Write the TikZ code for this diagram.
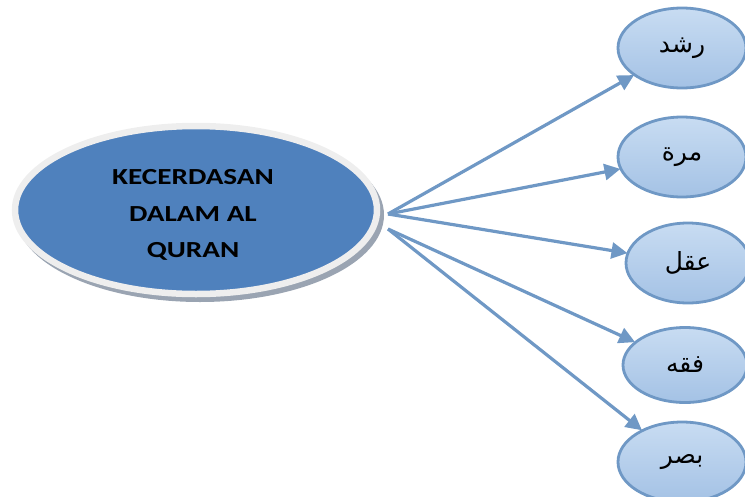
\documentclass[tikz,border=0pt]{standalone}
\usepackage{fontspec}
\setmainfont{Carlito}
\newfontfamily\arabicfont[Script=Arabic]{DejaVu Sans}
\TeXXeTstate=1
\usetikzlibrary{shapes.geometric,arrows.meta}
\definecolor{mainblue}{HTML}{4F81BD}
\definecolor{rimgray}{HTML}{EEEEEE}
\definecolor{shadowgray}{HTML}{9AA4B2}
\definecolor{linkblue}{HTML}{6F98C5}
\definecolor{leaftop}{HTML}{C8DCF2}
\definecolor{leafbot}{HTML}{A4C2E5}
\tikzset{
  leaf/.style={ellipse, draw=linkblue, line width=2.8pt, top color=leaftop, bottom color=leafbot,
    minimum width=128pt, minimum height=80pt, inner sep=0pt,
    font=\arabicfont\fontsize{25pt}{28pt}\selectfont},
  link/.style={draw=linkblue, line width=3.2pt, -{Triangle[length=16pt,width=16pt]}, shorten >=-1pt},
}
\begin{document}
\begin{tikzpicture}[x=1pt,y=-1pt]
\useasboundingbox (0,0) rectangle (745,496);
\clip (0,0) rectangle (745,496);
% shadow of main ellipse
\fill[shadowgray] (200,215) ellipse [x radius=184, y radius=87];
\node[ellipse, draw=rimgray, line width=6.5pt, fill=mainblue, minimum width=362pt, minimum height=168pt,
  inner sep=0pt] (main) at (196,210) {};
\node[font=\bfseries\fontsize{23pt}{36.5pt}\selectfont, inner sep=0pt] (title) at (193,214)
  {\scalebox{1.27}[1]{\begin{tabular}{@{}c@{}}KECERDASAN\\DALAM AL\\QURAN\end{tabular}}};
\node[leaf] (e1) at (682,48) {\beginR رشد\endR};
\node[leaf] (e2) at (682,157) {\beginR مرة\endR};
\node[leaf, minimum width=124pt] (e3) at (688,263) {\beginR عقل\endR};
\node[leaf, minimum width=124pt, minimum height=75pt] (e4) at (685,365) {\beginR فقه\endR};
\node[leaf] (e5) at (682,462) {\beginR بصر\endR};
\coordinate (o1) at (388,214);
\coordinate (o2) at (388,229);
\draw[link] (o1) -- (e1);
\draw[link] (o1) -- (e2);
\draw[link] (o1) -- (e3);
\draw[link] (o2) -- (e4);
\draw[link] (o2) -- (e5);
\end{tikzpicture}
\end{document}
